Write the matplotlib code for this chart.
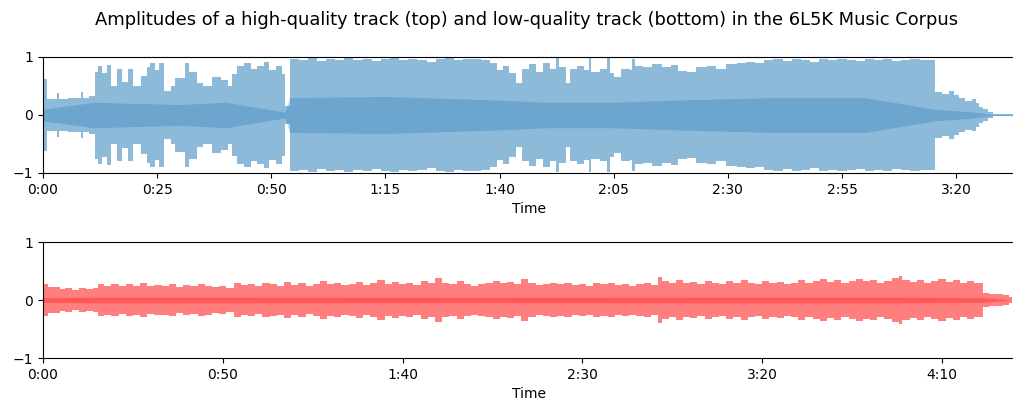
import numpy as np
import matplotlib.pyplot as plt
from matplotlib.ticker import FuncFormatter, MultipleLocator

# High-quality track: envelope breakpoints (seconds, peak amplitude)
hq_t = [0.0, 0.8, 3.0, 3.6, 5.5, 8.3, 8.8, 10.0, 11.3, 12.0, 13.0, 14.0, 15.0, 16.2,
        17.2, 18.7, 19.7, 21.5, 22.7, 23.5, 24.5, 25.5, 26.6, 28.0, 29.0, 31.0, 32.0,
        33.7, 35.0, 37.0, 39.0, 40.5, 41.5, 42.5, 44.0, 45.5, 46.8, 48.5, 49.5, 51.0,
        52.3, 53.0, 54.0, 56, 58, 60, 62, 64, 66, 68, 70, 72, 74, 76, 78, 80, 82, 84,
        86, 88, 90, 92, 94, 96, 98, 99.5, 100.8, 102.0, 103.5, 105.0, 106.5, 108.0,
        109.5, 111.0, 112.3, 113.0, 114.5, 115.5, 117.0, 118.5, 119.5, 120.0, 122.0,
        123.5, 124.2, 125.0, 126.5, 128.5, 129.0, 129.6, 131.5, 133.5, 135.5, 137.5,
        139.0, 141.0, 143.0, 145.5, 147.5, 149.7, 152.0, 154.0, 156.0, 158.0, 160, 162,
        164, 166, 168, 170, 172, 174, 176, 178, 180, 182, 184, 186, 188, 190, 192, 194,
        195.4, 197.0, 198.5, 199.5, 200.7, 202.0, 203.5, 204.4, 205.0, 206.0, 207.0,
        208.0, 215.0]
hq_amp = [0.62, 0.27, 0.38, 0.27, 0.3, 0.4, 0.3, 0.33, 0.75, 0.85, 0.72, 0.86, 0.5, 0.8,
          0.57, 0.8, 0.5, 0.68, 0.82, 0.9, 0.78, 0.9, 0.42, 0.5, 0.63, 0.9, 0.75,
          0.55, 0.5, 0.66, 0.6, 0.5, 0.7, 0.85, 0.9, 0.8, 0.85, 0.92, 0.78, 0.85,
          0.7, 0.15, 0.97, 0.95, 0.98, 0.93, 0.97, 0.94, 0.98, 0.95, 0.97, 0.93, 0.96,
          0.98, 0.94, 0.97, 0.95, 0.92, 0.96, 0.98, 0.94, 0.96, 0.97, 0.95, 0.9, 0.78,
          0.85, 0.72, 0.55, 0.8, 0.88, 0.75, 0.9, 0.8, 0.98, 0.82, 0.55, 0.8, 0.85,
          0.78, 0.98, 0.75, 0.8, 0.98, 0.72, 0.66, 0.8, 0.78, 0.97, 0.85, 0.82, 0.88,
          0.83, 0.86, 0.76, 0.74, 0.82, 0.84, 0.8, 0.88, 0.9, 0.92, 0.9, 0.94, 0.96,
          0.93, 0.97, 0.95, 0.92, 0.96, 0.94, 0.97, 0.95, 0.93, 0.96, 0.94, 0.97, 0.93,
          0.95, 0.96, 0.94, 0.95, 0.4, 0.37, 0.42, 0.35, 0.3, 0.25, 0.28, 0.2, 0.14,
          0.1, 0.05, 0.015, 0.015]
# darker core of the high-quality waveform
hq_core_t = [0, 11.3, 20, 30, 40, 53, 54, 75, 99, 110, 125, 140, 160, 180, 195.4, 204, 208, 215]
hq_core_amp = [0.1, 0.22, 0.2, 0.18, 0.22, 0.05, 0.3, 0.32, 0.26, 0.22, 0.22, 0.26, 0.3,
               0.3, 0.1, 0.05, 0.01, 0.01]

# Low-quality track
lq_t = [0, 1.5, 3, 4.7, 6, 8, 10, 12, 14, 15.3, 17, 19, 21, 23, 25, 27, 29, 31, 33, 35,
        37, 39, 41, 43, 45, 47, 49, 51, 53, 55, 57, 59, 61, 63, 65, 67, 69, 71, 73, 75,
        77, 79, 81, 83, 85, 87, 89, 91, 93, 95, 97, 99, 101, 103, 105, 107, 109, 111,
        113, 115, 117, 119, 121, 123, 125, 127, 129, 131, 133, 135, 137, 139, 141, 143,
        145, 147, 149, 151, 153, 155, 157, 159, 161, 163, 165, 167, 169, 171, 172, 174,
        176, 178, 180, 182, 184, 186, 188, 190, 192, 194, 196, 198, 200, 202, 204, 206,
        208, 210, 212, 214, 216, 218, 220, 222, 224, 226, 228, 230, 232, 234, 236, 238,
        239, 241, 243, 245, 247, 249, 251, 253, 255, 257, 259, 261.4, 263, 265, 267,
        268.5, 269.5]
lq_amp = [0.28, 0.23, 0.22, 0.19, 0.2, 0.18, 0.2, 0.19, 0.2, 0.27, 0.25, 0.28, 0.24, 0.27,
          0.25, 0.29, 0.24, 0.26, 0.25, 0.28, 0.23, 0.26, 0.24, 0.27, 0.25, 0.22, 0.24,
          0.2, 0.3, 0.26, 0.28, 0.24, 0.3, 0.27, 0.25, 0.31, 0.26, 0.29, 0.24, 0.28, 0.33,
          0.27, 0.3, 0.26, 0.28, 0.31, 0.26, 0.3, 0.34, 0.28, 0.31, 0.27, 0.3, 0.26, 0.33,
          0.29, 0.38, 0.3, 0.27, 0.33, 0.28, 0.25, 0.27, 0.3, 0.33, 0.29, 0.31, 0.28, 0.36,
          0.3, 0.26, 0.28, 0.3, 0.27, 0.29, 0.26, 0.28, 0.25, 0.3, 0.27, 0.29, 0.26, 0.28,
          0.25, 0.27, 0.29, 0.26, 0.4, 0.32, 0.3, 0.34, 0.29, 0.31, 0.28, 0.33, 0.3, 0.27,
          0.32, 0.29, 0.35, 0.3, 0.28, 0.33, 0.29, 0.31, 0.27, 0.3, 0.34, 0.29, 0.32, 0.36,
          0.31, 0.34, 0.3, 0.33, 0.37, 0.32, 0.35, 0.3, 0.33, 0.38, 0.42, 0.34, 0.31, 0.35,
          0.3, 0.33, 0.36, 0.31, 0.34, 0.3, 0.32, 0.29, 0.12, 0.1, 0.11, 0.08, 0.05, 0.0]
lq_core_t = [0, 15.3, 60, 120, 180, 240, 261.4, 269.5]
lq_core_amp = [0.04, 0.05, 0.05, 0.045, 0.05, 0.05, 0.04, 0.0]


def mmss(x, pos):
    return "%d:%02d" % (int(x) // 60, int(round(x)) % 60)


fig = plt.figure(figsize=(10.13, 4.05), dpi=100)
ax1 = fig.add_axes([43 / 1013, 1 - 173 / 405, 972 / 1013, 116 / 405])
ax2 = fig.add_axes([43 / 1013, 1 - 358 / 405, 972 / 1013, 116 / 405])

for ax, t, a, ct, ca, col, step, xmax in [
        (ax1, hq_t, hq_amp, hq_core_t, hq_core_amp, "#1f77b4", 25, 212.9),
        (ax2, lq_t, lq_amp, lq_core_t, lq_core_amp, "#ff0000", 50, 270.3)]:
    t = np.array(t); a = np.array(a)
    ax.fill_between(t, -a, a, step="post", color=col, alpha=0.5, lw=0)
    ct = np.array(ct); ca = np.array(ca)
    ax.fill_between(ct, -ca, ca, color=col, alpha=0.3, lw=0)
    ax.set_xlim(0, xmax)
    ax.set_ylim(-1, 1)
    ax.set_yticks([-1, 0, 1])
    ax.xaxis.set_major_locator(MultipleLocator(step))
    ax.xaxis.set_major_formatter(FuncFormatter(mmss))
    ax.set_xlabel("Time")

fig.text(527 / 1013, 1 - 20 / 405,
         "Amplitudes of a high-quality track (top) and low-quality track (bottom) in the 6L5K Music Corpus",
         ha="center", va="center", fontsize=12.9)

plt.savefig("out.png", dpi=100)
